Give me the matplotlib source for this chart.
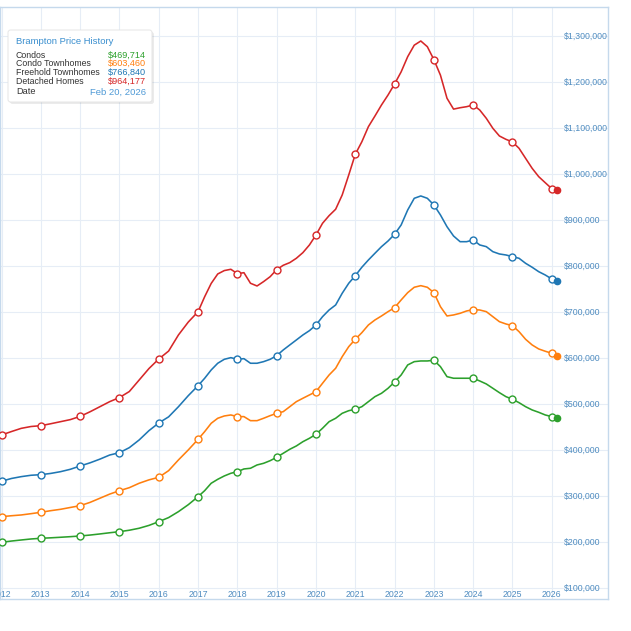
import numpy as np
import matplotlib
matplotlib.use("Agg")
import matplotlib.pyplot as plt
from matplotlib.patches import FancyBboxPatch
import matplotlib.transforms as mtransforms

plt.rcParams['font.family'] = ['Liberation Sans', 'DejaVu Sans']

# dates: quarterly 2012-2016, every two months 2017-2026, then the last reading
q_dates = [2012 + i / 4 for i in range(20)]
b_dates = [2017 + i / 6 for i in range(55)]
dates = q_dates + b_dates + [2026 + 50 / 365]

detached = [432600, 440000, 447000, 451000, 452800, 457000, 461500, 466000,
            473000, 483000, 494000, 505000, 514000, 527000, 552000, 577000,
            597800, 615000, 650000, 678000,
            700700, 733000, 762000, 782600, 790000, 792800,
            783300, 785400, 762400, 756500, 766000, 776700,
            792000, 801500, 807300, 816700, 829000, 845700,
            867400, 892800, 909400, 923300, 954300, 997800,
            1042800, 1070000, 1102800, 1126000, 1150000, 1171700,
            1195700, 1222000, 1255000, 1280000, 1289100, 1276700,
            1248500, 1214800, 1164600, 1141000, 1144000, 1146300,
            1150000, 1139000, 1121000, 1099300, 1082600, 1075300,
            1069600, 1055800, 1034000, 1012300, 994200, 981000,
            968000, 964177]

freehold = [332000, 338000, 342000, 345000, 346300, 349000, 352800, 358000,
            365200, 372000, 380000, 389000, 394100, 405000, 421700, 442000,
            458700, 472000, 494000, 518000,
            539800, 555800, 573900, 588500, 597100, 600700,
            597100, 598500, 588500, 588500, 592000, 597100,
            605000, 617400, 628300, 639100, 650000, 659400,
            671700, 689800, 704300, 715200, 740600, 762400,
            778900, 797200, 813000, 827600, 842000, 854300,
            868900, 889100, 921700, 947100, 952200, 947100,
            932600, 910900, 885400, 865200, 852800, 852800,
            856500, 845700, 842000, 831100, 826100, 823900,
            820300, 816700, 805800, 797200, 787600, 780400,
            771700, 766840]

condo_th = [255000, 257000, 258700, 261500, 264500, 268000, 271000, 275000,
            278900, 286000, 295000, 304000, 311500, 318000, 327600, 335000,
            340600, 355000, 378300, 400000,
            423200, 439800, 458000, 468900, 473900, 476100,
            472500, 472500, 463700, 463700, 468900, 474600,
            479700, 483300, 494100, 505000, 512400, 519600,
            526800, 545000, 563000, 577600, 602800, 624600,
            640600, 655000, 671700, 682600, 691300, 700700,
            709300, 726100, 742000, 753700, 757200, 753700,
            742000, 711500, 691300, 693500, 697100, 702200,
            705000, 704300, 700700, 689800, 678900, 673900,
            670200, 657200, 640600, 628300, 619600, 614600,
            610200, 603460]

condos = [199300, 202000, 204300, 206500, 208000, 209000, 210200, 211500,
          213000, 215000, 217400, 220000, 222400, 225500, 229800, 236000,
          244100, 253000, 265900, 281000,
          298500, 311500, 327600, 336200, 343500, 349300,
          352800, 358700, 360200, 367400, 371000, 376700,
          384100, 392800, 401500, 408700, 418000, 425400,
          434100, 447200, 461500, 468900, 479700, 485400,
          488500, 494100, 505000, 515900, 523200, 534100,
          547800, 563000, 584800, 592000, 593500, 593500,
          595000, 581100, 559400, 555900, 555900, 555900,
          555900, 550000, 543500, 534100, 524600, 515900,
          510200, 502800, 494100, 487000, 481900, 476100,
          472400, 469714]

names = ["Condos", "Condo Townhomes", "Freehold Townhomes", "Detached Homes"]
series = [condos, condo_th, freehold, detached]
colors = ["#2ca02c", "#ff7f0e", "#1f77b4", "#d62728"]
last_date = "Feb 20, 2026"

year_ticks = list(range(2012, 2027))
price_ticks = list(range(100000, 1300001, 100000))

W = 631
fig = plt.figure(figsize=(6.31, 6.31), dpi=100)
ax = fig.add_axes([0, 32 / W, 608 / W, 592 / W])

x = np.array(dates)
is_year = np.isclose(x, np.round(x))
for vals, col in zip(series, colors):
    y = np.array(vals, dtype=float)
    ax.plot(x, y, color=col, lw=1.15, zorder=3, solid_joinstyle='round')
    ax.plot(x[is_year], y[is_year], 'o', ms=5, mfc='white', mec=col,
            mew=1.0, zorder=4)
    ax.plot(x[-1:], y[-1:], 'o', ms=4.5, color=col, zorder=5)

ax.set_xlim(2011.96, 2027.43)
ax.set_ylim(76000, 1363000)
ax.set_xticks(year_ticks)
ax.set_yticks(price_ticks)
ax.tick_params(length=0, labelbottom=False, labelleft=False)
ax.grid(True, color='#e6edf6', lw=0.8, zorder=0)
for s in ax.spines.values():
    s.set_color('#c5d9ec')
    s.set_linewidth(1.0)

tick_col = '#4f8cc0'
tr_x = mtransforms.blended_transform_factory(ax.transData, ax.transAxes)
for yr in year_ticks:
    ax.text(yr, 4.5 / 592, str(yr), transform=tr_x, ha='center', va='center',
            fontsize=6.3, color=tick_col)
tr_y = mtransforms.blended_transform_factory(ax.transAxes, ax.transData)
for p in price_ticks:
    ax.text(564 / 608, p, "${:,}".format(p), transform=tr_y, ha='left',
            va='center', fontsize=6.3, color=tick_col)

# tooltip box in the top left
def fy(py):
    return 1 - py / W

shadow = FancyBboxPatch((10 / W, fy(104)), 144 / W, 72 / W,
                        boxstyle="round,pad=0,rounding_size=0.004",
                        transform=fig.transFigure, fc='#000000', alpha=0.08,
                        ec='none', zorder=9)
box = FancyBboxPatch((8 / W, fy(102)), 144 / W, 72 / W,
                     boxstyle="round,pad=0,rounding_size=0.004",
                     transform=fig.transFigure, fc='white', ec='#e2e2e2',
                     lw=0.6, zorder=10)
fig.patches.extend([shadow, box])

fig.text(16 / W, fy(42), "Brampton Price History", fontsize=6.8,
         color='#3a8fcf', va='center', zorder=11)
row_y = [55, 63.5, 72.5, 81]
for name, vals, col, ry in zip(names, series, colors, row_y):
    fig.text(16 / W, fy(ry), name, fontsize=6.3, color='#333333',
             va='center', zorder=11)
    fig.text(146 / W, fy(ry), "${:,}".format(vals[-1]), fontsize=6.6,
             color=col, va='center', ha='right', zorder=11)
fig.text(16 / W, fy(92), "Date", fontsize=6.6, color='#333333',
         va='center', zorder=11)
fig.text(146 / W, fy(92), last_date, fontsize=6.8, color='#4f9ad6',
         va='center', ha='right', zorder=11)

fig.savefig("out.png", dpi=100)
